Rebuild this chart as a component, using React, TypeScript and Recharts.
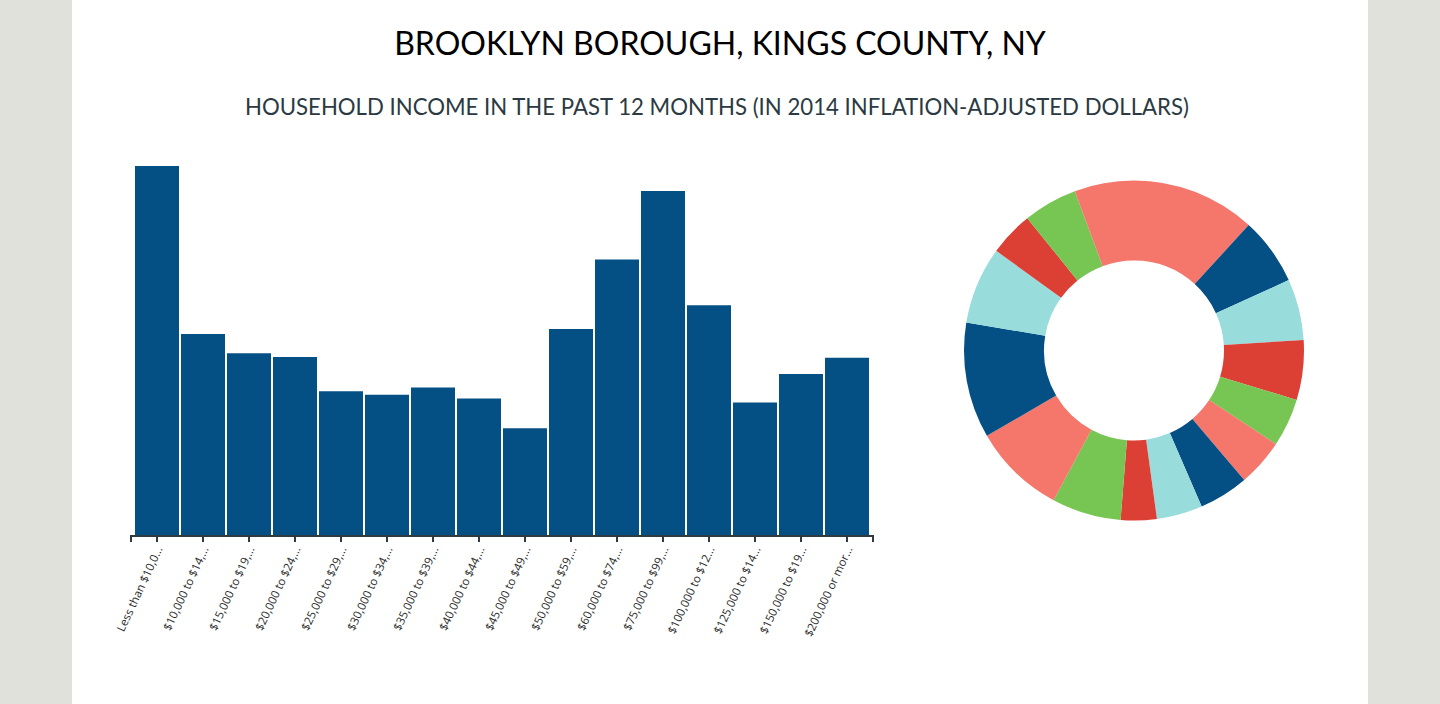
import React from "react";
import { Bar, BarChart, Cell, Pie, PieChart, XAxis, YAxis } from "recharts";

const incomeBrackets = [
  "Less than $10,000",
  "$10,000 to $14,999",
  "$15,000 to $19,999",
  "$20,000 to $24,999",
  "$25,000 to $29,999",
  "$30,000 to $34,999",
  "$35,000 to $39,999",
  "$40,000 to $44,999",
  "$45,000 to $49,999",
  "$50,000 to $59,999",
  "$60,000 to $74,999",
  "$75,000 to $99,999",
  "$100,000 to $124,999",
  "$125,000 to $149,999",
  "$150,000 to $199,999",
  "$200,000 or more"
];

const households = [
  107800, 58700, 53100, 52000, 42000, 41000, 43100, 39900, 31200, 60200,
  80500, 100500, 67100, 38700, 47000, 51800
];

const sliceColors = ["#F5776B", "#044F84", "#98DCDC", "#DC4034", "#77C553"];

const chartTitle = "BROOKLYN BOROUGH, KINGS COUNTY, NY";
const chartSubtitle =
  "HOUSEHOLD INCOME IN THE PAST 12 MONTHS (IN 2014 INFLATION-ADJUSTED DOLLARS)";

const rows = incomeBrackets.map((bracket, i) => ({
  bracket,
  households: households[i]
}));

const AXIS_COLOR = "#2E3B42";
const BAND = 46;
const EDGE = BAND / 2 + 3;

function IncomeTick(props: any) {
  const { x, y, payload, index, visibleTicksCount } = props;
  const y0 = y + 1;
  const label: string = payload.value;
  const short = label.length > 15 ? label.slice(0, 15) + "..." : label;
  const count = visibleTicksCount ?? incomeBrackets.length;
  return (
    <g>
      {index === 0 && (
        <path
          d={`M${x - EDGE},${y0 + 6}V${y0}H${x - EDGE + BAND * count + 6}V${y0 + 6}`}
          fill="none"
          stroke={AXIS_COLOR}
          strokeWidth={2}
        />
      )}
      <line x1={x} x2={x} y1={y0} y2={y0 + 6} stroke={AXIS_COLOR} strokeWidth={2} />
      <text
        transform={`translate(${x},${y0}) rotate(-65)`}
        x={0}
        y={9}
        dx="-.8em"
        dy=".15em"
        textAnchor="end"
        fontSize={11.5}
        fontFamily="'Open Sans', sans-serif"
        fill="#2a2a2a"
      >
        {short}
      </text>
    </g>
  );
}

export default function App() {
  return (
    <div
      style={{
        position: "fixed",
        left: 0,
        top: 0,
        width: 1440,
        height: 704,
        background: "#E1E1DB",
        overflow: "hidden"
      }}
    >
      <div
        style={{
          position: "absolute",
          left: 72,
          top: 0,
          width: 1296,
          height: 704,
          background: "#fff"
        }}
      />
      <svg
        width={1440}
        height={130}
        style={{ position: "absolute", left: 0, top: 0 }}
      >
        <text
          x={720}
          y={54.5}
          textAnchor="middle"
          fontSize={32}
          fontFamily="Lato, sans-serif"
          fill="#000"
        >
          {chartTitle}
        </text>
        <text
          x={717}
          y={115}
          textAnchor="middle"
          fontSize={22.2}
          fontFamily="Lato, sans-serif"
          fill="#2B3A42"
        >
          {chartSubtitle}
        </text>
      </svg>
      <div style={{ position: "absolute", left: 0, top: 0 }}>
        <BarChart
          width={900}
          height={660}
          data={rows}
          margin={{ top: 166, left: 131, right: 27, bottom: 5 }}
          barCategoryGap={1}
        >
          <YAxis hide domain={[0, "dataMax"]} />
          <XAxis
            dataKey="bracket"
            height={120}
            interval={0}
            axisLine={false}
            tickLine={false}
            tickSize={0}
            tickMargin={0}
            padding={{ left: 3, right: 3 }}
            tick={<IncomeTick />}
          />
          <Bar dataKey="households" fill="#044F84" isAnimationActive={false} />
        </BarChart>
      </div>
      <div style={{ position: "absolute", left: 934, top: 150 }}>
        <PieChart width={400} height={400} margin={{ top: 0, left: 0, right: 0, bottom: 0 }}>
          <Pie
            data={rows}
            dataKey="households"
            nameKey="bracket"
            cx={200}
            cy={200.5}
            innerRadius={90}
            outerRadius={170}
            startAngle={90}
            endAngle={-270}
            stroke="none"
            isAnimationActive={false}
          >
            {rows.map((row, i) => (
              <Cell key={row.bracket} fill={sliceColors[i % sliceColors.length]} />
            ))}
          </Pie>
        </PieChart>
      </div>
    </div>
  );
}
